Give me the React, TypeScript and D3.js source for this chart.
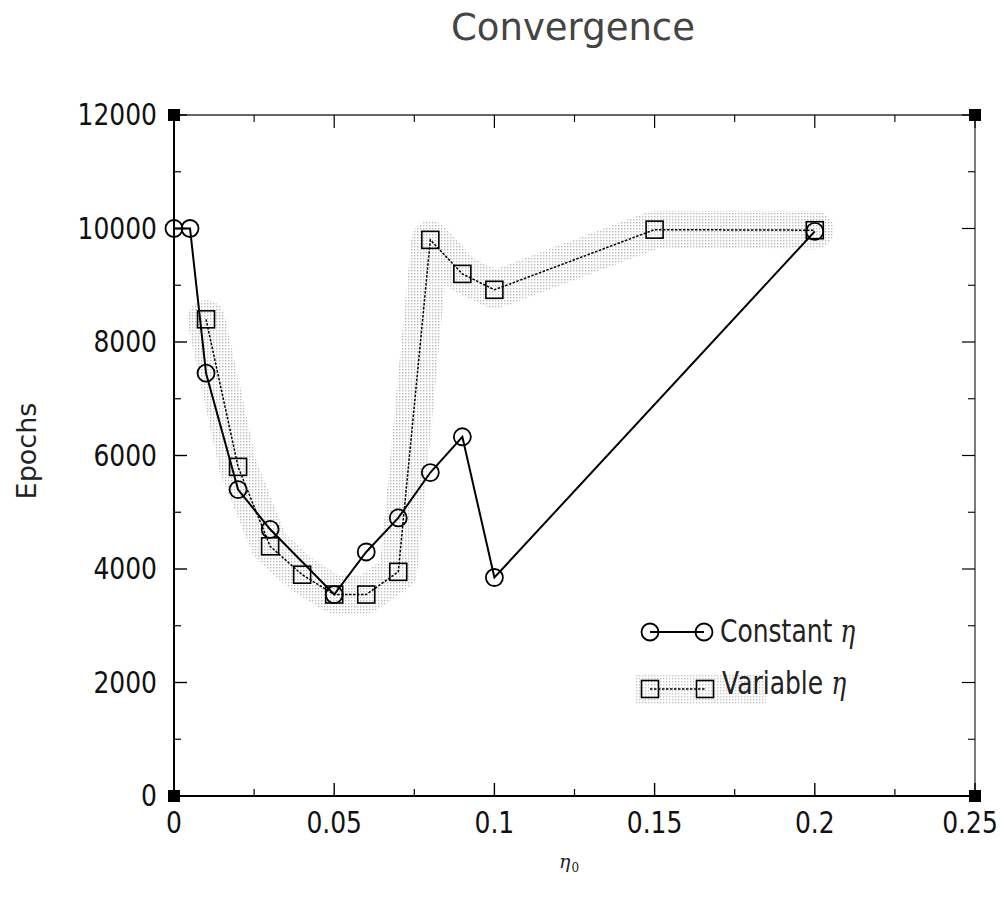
import React from "react";
import * as d3 from "d3";

const constantX = [0, 0.005, 0.01, 0.02, 0.03, 0.05, 0.06, 0.07, 0.08, 0.09, 0.1, 0.2];
const constantY = [10000, 10000, 7450, 5400, 4700, 3550, 4300, 4900, 5700, 6330, 3850, 9950];
const variableX = [0.01, 0.02, 0.03, 0.04, 0.05, 0.06, 0.07, 0.08, 0.09, 0.1, 0.15, 0.2];
const variableY = [8400, 5800, 4400, 3900, 3550, 3550, 3950, 9800, 9200, 8920, 9980, 9970];
const xTicks = [0, 0.05, 0.1, 0.15, 0.2, 0.25];
const xTickLabels = ["0", "0.05", "0.1", "0.15", "0.2", "0.25"];
const yTicks = [0, 2000, 4000, 6000, 8000, 10000, 12000];
const yTickLabels = ["0", "2000", "4000", "6000", "8000", "10000", "12000"];
const xMinor = [0.025, 0.075, 0.125, 0.175, 0.225];
const yMinor = [1000, 3000, 5000, 7000, 9000, 11000];

const W = 1003;
const H = 897;
const left = 174;
const right = 975;
const top = 115;
const bottom = 796;

export default function App() {
  const x = d3.scaleLinear().domain([0, 0.25]).range([left, right]);
  const y = d3.scaleLinear().domain([0, 12000]).range([bottom, top]);
  const font = "'DejaVu Sans', 'Liberation Sans', Arial, sans-serif";
  const greek = "'DejaVu Serif', serif";

  const cPts: [number, number][] = constantX.map((v, i) => [v, constantY[i]]);
  const vPts: [number, number][] = variableX.map((v, i) => [v, variableY[i]]);
  const line = d3
    .line<[number, number]>()
    .x((d) => x(d[0]))
    .y((d) => y(d[1]));

  const circle = (cx: number, cy: number, key: string | number) => (
    <circle key={key} cx={cx} cy={cy} r={8.5} fill="none" stroke="black" strokeWidth={1.8} />
  );
  const square = (cx: number, cy: number, key: string | number) => (
    <rect key={key} x={cx - 8.5} y={cy - 8.5} width={17} height={17} fill="none" stroke="black" strokeWidth={1.6} />
  );

  const majT = 13;
  const minT = 7;
  const sy = 1.22;

  return (
    <svg width={W} height={H} style={{ display: "block", position: "absolute", left: 0, top: 0, background: "white" }}>
      <defs>
        <pattern id="dots" width={3} height={3} patternUnits="userSpaceOnUse">
          <rect x={0} y={0} width={1.4} height={1.4} fill="#8a8a8a" />
        </pattern>
      </defs>
      <rect x={0} y={0} width={W} height={H} fill="white" />

      {/* halftone halo behind variable series */}
      <path d={line(vPts) || ""} fill="none" stroke="url(#dots)" strokeWidth={38} strokeLinejoin="round" strokeLinecap="round" opacity={0.6} />
      <rect x={636} y={674} width={130} height={30} fill="url(#dots)" opacity={0.5} />

      {/* title */}
      <text x={573} y={40} textAnchor="middle" fontFamily={font} fontSize={37} fill="#444">
        Convergence
      </text>

      {/* axes frame */}
      <line x1={left} y1={bottom} x2={right} y2={bottom} stroke="black" strokeWidth={2} />
      <line x1={left} y1={top} x2={left} y2={bottom} stroke="black" strokeWidth={2} />
      <line x1={left} y1={top} x2={right} y2={top} stroke="#333" strokeWidth={1.3} />
      <line x1={right} y1={top} x2={right} y2={bottom} stroke="#333" strokeWidth={1.3} />

      {/* x ticks */}
      {xTicks.map((t, i) => (
        <g key={"xt" + i}>
          <line x1={x(t)} y1={bottom} x2={x(t)} y2={bottom - majT} stroke="black" strokeWidth={1.4} />
          <line x1={x(t)} y1={top} x2={x(t)} y2={top + majT} stroke="black" strokeWidth={1.2} />
          <text
            transform={`translate(${Math.min(x(t), 970)},${bottom + 37}) scale(1,${sy})`}
            textAnchor="middle"
            fontFamily={font}
            fontSize={25}
            fill="#111"
          >
            {xTickLabels[i]}
          </text>
        </g>
      ))}
      {xMinor.map((t, i) => (
        <g key={"xm" + i}>
          <line x1={x(t)} y1={bottom} x2={x(t)} y2={bottom - minT} stroke="black" strokeWidth={1.2} />
          <line x1={x(t)} y1={top} x2={x(t)} y2={top + minT} stroke="black" strokeWidth={1.1} />
        </g>
      ))}

      {/* y ticks */}
      {yTicks.map((t, i) => (
        <g key={"yt" + i}>
          <line x1={left} y1={y(t)} x2={left + majT} y2={y(t)} stroke="black" strokeWidth={1.4} />
          <line x1={right} y1={y(t)} x2={right - majT} y2={y(t)} stroke="black" strokeWidth={1.2} />
          <text
            transform={`translate(157,${y(t) + 10}) scale(1,${sy})`}
            textAnchor="end"
            fontFamily={font}
            fontSize={25}
            fill="#111"
          >
            {yTickLabels[i]}
          </text>
        </g>
      ))}
      {yMinor.map((t, i) => (
        <g key={"ym" + i}>
          <line x1={left} y1={y(t)} x2={left + minT} y2={y(t)} stroke="black" strokeWidth={1.2} />
          <line x1={right} y1={y(t)} x2={right - minT} y2={y(t)} stroke="black" strokeWidth={1.1} />
        </g>
      ))}

      {/* corner markers */}
      {[
        [left, top],
        [right, top],
        [left, bottom],
        [right, bottom],
      ].map((p, i) => (
        <rect key={"c" + i} x={p[0] - 6} y={p[1] - 6} width={12} height={12} fill="black" />
      ))}

      {/* series */}
      <path d={line(vPts) || ""} fill="none" stroke="black" strokeWidth={1.5} strokeDasharray="2.5,1.5" />
      <path d={line(cPts) || ""} fill="none" stroke="black" strokeWidth={2} />
      {vPts.map((d, i) => square(x(d[0]), y(d[1]), "s" + i))}
      {cPts.map((d, i) => circle(x(d[0]), y(d[1]), "p" + i))}

      {/* axis labels */}
      <text transform="translate(36,451) rotate(-90)" textAnchor="middle" fontFamily={font} fontSize={27} fill="#222">
        Epochs
      </text>
      <text x={559} y={868} fontFamily={greek} fontStyle="italic" fontSize={19} fill="#222">
        η
        <tspan dx={1} dy={4} fontSize={12} fontStyle="normal">0</tspan>
      </text>

      {/* legend */}
      <line x1={650} y1={632} x2={704} y2={632} stroke="black" strokeWidth={2} />
      {circle(650, 632, "lc1")}
      {circle(704, 632, "lc2")}
      <text transform={`translate(720,642) scale(1,1.28)`} fontFamily={font} fontSize={25} fill="#222">
        Constant <tspan fontFamily={greek} fontStyle="italic">η</tspan>
      </text>
      <line x1={650} y1={689} x2={705} y2={689} stroke="black" strokeWidth={1.5} strokeDasharray="2.5,1.5" />
      {square(650, 689, "ls1")}
      {square(705, 689, "ls2")}
      <text transform={`translate(722,694) scale(1,1.28)`} fontFamily={font} fontSize={25} fill="#222">
        Variable <tspan fontFamily={greek} fontStyle="italic">η</tspan>
      </text>
    </svg>
  );
}
